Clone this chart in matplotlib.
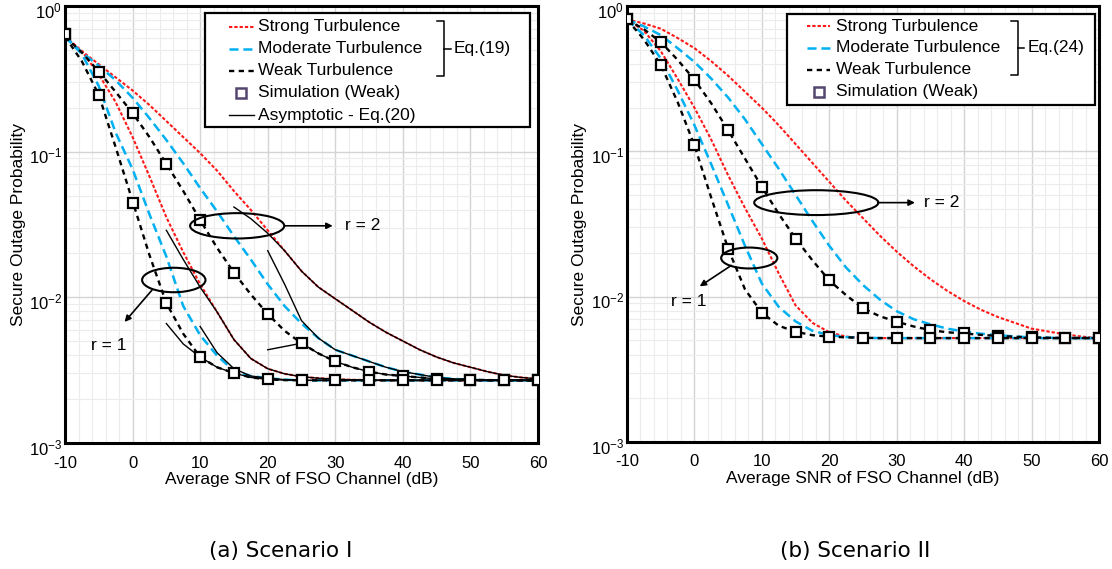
import numpy as np
import matplotlib
matplotlib.use("Agg")
import matplotlib.pyplot as plt
from matplotlib.patches import Ellipse, Rectangle
from matplotlib.lines import Line2D
from matplotlib.ticker import FixedLocator, MultipleLocator, LogLocator, NullFormatter, LogFormatterSciNotation
import matplotlib.transforms as mtransforms

plt.rcParams['font.family'] = ['Liberation Sans', 'DejaVu Sans']
plt.rcParams['mathtext.fontset'] = 'custom'
plt.rcParams['mathtext.rm'] = 'Liberation Sans'
plt.rcParams['mathtext.it'] = 'Liberation Sans:italic'
plt.rcParams['axes.unicode_minus'] = False
plt.rcParams['lines.scale_dashes'] = False

# ---------------- data (values are log10 of secure outage probability) ----------------
snr = [-10, -7.5, -5, -2.5, 0, 2.5, 5, 7.5, 10, 12.5, 15, 17.5, 20, 22.5, 25, 27.5, 30,
       32.5, 35, 37.5, 40, 42.5, 45, 47.5, 50, 52.5, 55, 57.5, 60]
sim_snr = [-10, -5, 0, 5, 10, 15, 20, 25, 30, 35, 40, 45, 50, 55, 60]
x_ticks = [-10, 0, 10, 20, 30, 40, 50, 60]

# Scenario I
a_strong_r1 = [-0.21, -0.31, -0.47, -0.66, -0.90, -1.17, -1.45, -1.69, -1.91, -2.10, -2.29, -2.42, -2.49,
               -2.525, -2.545, -2.555, -2.562, -2.566, -2.568, -2.57, -2.57, -2.57, -2.57, -2.57, -2.57,
               -2.57, -2.57, -2.57, -2.57]
a_moderate_r1 = [-0.21, -0.33, -0.55, -0.87, -1.12, -1.43, -1.72, -2.06, -2.26, -2.40, -2.505, -2.54, -2.555,
                 -2.565, -2.57, -2.57, -2.57, -2.57, -2.57, -2.57, -2.57, -2.57, -2.57, -2.57, -2.57,
                 -2.57, -2.57, -2.57, -2.57]
a_weak_r1 = [-0.21, -0.38, -0.61, -0.97, -1.34, -1.71, -2.04, -2.25, -2.41, -2.48, -2.52, -2.55, -2.563,
             -2.568, -2.57, -2.57, -2.57, -2.57, -2.57, -2.57, -2.57, -2.57, -2.57, -2.57, -2.57,
             -2.57, -2.57, -2.57, -2.57]
a_strong_r2 = [-0.21, -0.31, -0.40, -0.49, -0.58, -0.68, -0.79, -0.90, -1.01, -1.13, -1.27, -1.40, -1.54,
               -1.68, -1.82, -1.93, -2.01, -2.09, -2.17, -2.24, -2.30, -2.36, -2.41, -2.45, -2.48,
               -2.51, -2.535, -2.55, -2.56]
a_moderate_r2 = [-0.21, -0.32, -0.41, -0.51, -0.63, -0.77, -0.92, -1.08, -1.25, -1.41, -1.58, -1.74, -1.91,
                 -2.06, -2.18, -2.28, -2.36, -2.40, -2.44, -2.48, -2.51, -2.53, -2.55, -2.56, -2.565,
                 -2.57, -2.57, -2.57, -2.57]
a_weak_r2 = [-0.21, -0.32, -0.45, -0.59, -0.735, -0.90, -1.084, -1.27, -1.469, -1.66, -1.83, -1.98, -2.114,
             -2.23, -2.315, -2.385, -2.44, -2.48, -2.51, -2.53, -2.54, -2.55, -2.56, -2.563, -2.565,
             -2.568, -2.57, -2.57, -2.57]
a_sim_r1 = [-0.19, -0.611, -1.35, -2.04, -2.407, -2.52, -2.563, -2.57, -2.57, -2.57, -2.57, -2.57, -2.57, -2.57, -2.57]
a_sim_r2 = [-0.19, -0.453, -0.735, -1.084, -1.469, -1.83, -2.114, -2.315, -2.44, -2.51, -2.54, -2.56, -2.565, -2.57, -2.57]

# asymptotic curves (Eq.(20)), Scenario I
asy_strong_r1_x = [5, 7.5, 10, 12.5, 15, 17.5, 20, 22.5, 25, 27.5, 30, 32.5, 35, 37.5, 40, 42.5, 45, 47.5, 50, 52.5, 55, 57.5, 60]
asy_strong_r1 = [-1.54, -1.74, -1.93, -2.10, -2.29, -2.42, -2.49, -2.525, -2.545, -2.555, -2.562, -2.566, -2.568,
                 -2.57, -2.57, -2.57, -2.57, -2.57, -2.57, -2.57, -2.57, -2.57, -2.57]
asy_moderate_r1_x = [10, 12.5, 15, 17.5, 20, 22.5, 25, 27.5, 30, 32.5, 35, 37.5, 40, 42.5, 45, 47.5, 50, 52.5, 55, 57.5, 60]
asy_moderate_r1 = [-2.20, -2.38, -2.49, -2.54, -2.555, -2.565, -2.57, -2.57, -2.57, -2.57, -2.57, -2.57, -2.57,
                   -2.57, -2.57, -2.57, -2.57, -2.57, -2.57, -2.57, -2.57]
asy_weak_r1_x = [5, 7.5, 10, 12.5, 15, 17.5, 20, 22.5, 25, 27.5, 30, 32.5, 35, 37.5, 40, 42.5, 45, 47.5, 50, 52.5, 55, 57.5, 60]
asy_weak_r1 = [-2.18, -2.32, -2.41, -2.48, -2.52, -2.55, -2.563, -2.568, -2.57, -2.57, -2.57, -2.57, -2.57,
               -2.57, -2.57, -2.57, -2.57, -2.57, -2.57, -2.57, -2.57, -2.57, -2.57]
asy_strong_r2_x = [15, 17.5, 20, 22.5, 25, 27.5, 30, 32.5, 35, 37.5, 40, 42.5, 45, 47.5, 50, 52.5, 55, 57.5, 60]
asy_strong_r2 = [-1.38, -1.46, -1.56, -1.68, -1.82, -1.93, -2.01, -2.09, -2.17, -2.24, -2.30, -2.36, -2.41,
                 -2.45, -2.48, -2.51, -2.535, -2.55, -2.56]
asy_moderate_r2_x = [20, 22.5, 25, 27.5, 30, 32.5, 35, 37.5, 40, 42.5, 45, 47.5, 50, 52.5, 55, 57.5, 60]
asy_moderate_r2 = [-1.68, -1.91, -2.16, -2.28, -2.36, -2.40, -2.44, -2.48, -2.51, -2.53, -2.55, -2.56, -2.565,
                   -2.57, -2.57, -2.57, -2.57]
asy_weak_r2_x = [20, 25, 27.5, 30, 32.5, 35, 37.5, 40, 42.5, 45, 47.5, 50, 52.5, 55, 57.5, 60]
asy_weak_r2 = [-2.36, -2.315, -2.385, -2.44, -2.48, -2.51, -2.53, -2.54, -2.55, -2.56, -2.563, -2.565, -2.568,
               -2.57, -2.57, -2.57]

# Scenario II
b_strong_r1 = [-0.092, -0.17, -0.31, -0.50, -0.70, -0.92, -1.165, -1.39, -1.60, -1.84, -2.06, -2.18, -2.245,
               -2.275, -2.283, -2.285, -2.285, -2.285, -2.285, -2.285, -2.285, -2.285, -2.285, -2.285,
               -2.285, -2.285, -2.285, -2.285, -2.285]
b_moderate_r1 = [-0.092, -0.20, -0.36, -0.58, -0.82, -1.09, -1.37, -1.65, -1.91, -2.07, -2.17, -2.235, -2.264,
                 -2.278, -2.283, -2.285, -2.285, -2.285, -2.285, -2.285, -2.285, -2.285, -2.285, -2.285,
                 -2.285, -2.285, -2.285, -2.285, -2.285]
b_weak_r1 = [-0.092, -0.23, -0.404, -0.66, -0.959, -1.32, -1.67, -1.95, -2.11, -2.20, -2.241, -2.265, -2.275,
             -2.28, -2.283, -2.285, -2.285, -2.285, -2.285, -2.285, -2.285, -2.285, -2.285, -2.285,
             -2.285, -2.285, -2.285, -2.285, -2.285]
b_strong_r2 = [-0.092, -0.12, -0.156, -0.22, -0.29, -0.38, -0.48, -0.59, -0.70, -0.82, -0.95, -1.08, -1.21,
               -1.34, -1.46, -1.58, -1.69, -1.79, -1.88, -1.96, -2.03, -2.09, -2.14, -2.18, -2.22,
               -2.24, -2.26, -2.275, -2.285]
b_moderate_r2 = [-0.092, -0.14, -0.20, -0.29, -0.385, -0.50, -0.63, -0.78, -0.95, -1.12, -1.30, -1.48, -1.65,
                 -1.80, -1.92, -2.02, -2.10, -2.155, -2.19, -2.22, -2.24, -2.255, -2.265, -2.274, -2.28,
                 -2.283, -2.285, -2.285, -2.285]
b_weak_r2 = [-0.092, -0.16, -0.248, -0.37, -0.507, -0.67, -0.855, -1.05, -1.245, -1.43, -1.60, -1.75, -1.888,
             -1.99, -2.08, -2.135, -2.172, -2.205, -2.23, -2.245, -2.253, -2.263, -2.27, -2.276, -2.28,
             -2.283, -2.284, -2.285, -2.285]
b_sim_r1 = [-0.092, -0.404, -0.959, -1.67, -2.11, -2.241, -2.28, -2.283, -2.285, -2.285, -2.285, -2.285, -2.285, -2.285, -2.285]
b_sim_r2 = [-0.092, -0.248, -0.507, -0.855, -1.245, -1.60, -1.888, -2.08, -2.172, -2.23, -2.253, -2.27, -2.28, -2.283, -2.285]

legend_labels_a = ["Strong Turbulence", "Moderate Turbulence", "Weak Turbulence",
                   "Simulation (Weak)", "Asymptotic - Eq.(20)"]
legend_labels_b = ["Strong Turbulence", "Moderate Turbulence", "Weak Turbulence", "Simulation (Weak)"]

# ---------------- styling ----------------
RED = '#ff1a1a'
BLUE = '#00b0f0'
FS = 12.5
red_kw = dict(color=RED, lw=1.5, dashes=(2.4, 1.4))
blue_kw = dict(color=BLUE, lw=1.8, dashes=(6.5, 3.5))
black_kw = dict(color='black', lw=1.7, dashes=(3.8, 3.2))
asy_kw = dict(color='black', lw=1.0, linestyle='-')
mk_kw = dict(linestyle='none', marker='s', ms=6.5, mfc='white', mec='black', mew=1.6, zorder=6)


def P(v):
    return 10 ** np.asarray(v, dtype=float)


fig = plt.figure(figsize=(11.12, 5.69), dpi=100)
axL = fig.add_axes([65 / 1112, 1 - 443 / 569, 473 / 1112, 437 / 569])
axR = fig.add_axes([627 / 1112, 1 - 442 / 569, 472 / 1112, 436 / 569])


def style_axes(ax, ylabel_x):
    ax.set_yscale('log')
    ax.set_xlim(-10, 60)
    ax.set_ylim(1e-3, 1)
    ax.xaxis.set_major_locator(FixedLocator(x_ticks))
    ax.xaxis.set_minor_locator(MultipleLocator(2))
    ax.yaxis.set_major_locator(LogLocator(base=10, numticks=10))
    ax.yaxis.set_minor_locator(LogLocator(base=10, subs=np.arange(2, 10), numticks=20))
    ax.yaxis.set_minor_formatter(NullFormatter())
    ax.yaxis.set_major_formatter(LogFormatterSciNotation())
    ax.grid(True, which='major', color='#d4d4d4', lw=1.0)
    ax.grid(True, which='minor', color='#ececec', lw=0.8)
    ax.set_axisbelow(True)
    ax.tick_params(which='both', length=0)
    ax.tick_params(axis='x', labelsize=12, pad=9)
    ax.tick_params(axis='y', labelsize=12, pad=2)
    for s in ax.spines.values():
        s.set_linewidth(2.2)
    ax.set_xlabel("Average SNR of FSO Channel (dB)", fontsize=FS)
    ax.xaxis.set_label_coords(0.5, -0.066)
    ax.set_ylabel("Secure Outage Probability", fontsize=FS)
    ax.yaxis.set_label_coords(ylabel_x, 0.5)
    off = mtransforms.ScaledTranslation(0, -3.5 / 100, fig.dpi_scale_trans)
    for lab in ax.get_yticklabels():
        lab.set_transform(lab.get_transform() + off)


def draw_legend(ax, labels, box, line_x, text_x, rows, brk_x, eq_text, with_asym):
    ax.add_patch(Rectangle((box[0], box[1]), box[2] - box[0], box[3] - box[1], transform=ax.transAxes,
                           facecolor='white', edgecolor='black', lw=1.6, zorder=8))
    kws = [red_kw, blue_kw, black_kw]
    for i, kw in enumerate(kws):
        ax.add_line(Line2D(line_x, [rows[i], rows[i]], transform=ax.transAxes, zorder=9, **kw))
    ax.add_line(Line2D([np.mean(line_x)], [rows[3]], transform=ax.transAxes, linestyle='none', marker='s',
                       ms=6.5, mfc='white', mec='#54466e', mew=1.8, zorder=9))
    if with_asym:
        ax.add_line(Line2D(line_x, [rows[4], rows[4]], transform=ax.transAxes, zorder=9, **asy_kw))
    for lab, y in zip(labels, rows):
        ax.text(text_x, y, lab, transform=ax.transAxes, fontsize=FS, va='center', ha='left', zorder=10)
    # bracket
    top, bot = rows[0] + 0.012, rows[2] - 0.012
    mid = rows[1]
    bx0, bx1, bx2 = brk_x
    ax.add_line(Line2D([bx0, bx1, bx1, bx0], [top, top, bot, bot], transform=ax.transAxes,
                       color='black', lw=1.1, zorder=9))
    ax.add_line(Line2D([bx1, bx2], [mid, mid], transform=ax.transAxes, color='black', lw=1.1, zorder=9))
    ax.text(bx2 + 0.006, mid, eq_text, transform=ax.transAxes, fontsize=FS, va='center', ha='left', zorder=10)


def annotate(ax, ell, arrow_from, arrow_to, text, text_xy, ha):
    ax.add_patch(Ellipse(ell[:2], ell[2], ell[3], transform=ax.transAxes, fill=False,
                         edgecolor='black', lw=1.5, zorder=7))
    ax.annotate('', xy=arrow_to, xytext=arrow_from, xycoords='axes fraction', textcoords='axes fraction',
                arrowprops=dict(arrowstyle='-|>', color='black', lw=1.2, mutation_scale=9,
                                shrinkA=0, shrinkB=0), zorder=7)
    ax.text(text_xy[0], text_xy[1], text, transform=ax.transAxes, fontsize=FS, ha=ha, va='center')


# ---------------- Scenario I ----------------
ax = axL
style_axes(ax, -0.082)
ax.plot(snr, P(a_strong_r2), **red_kw)
ax.plot(snr, P(a_strong_r1), **red_kw)
ax.plot(snr, P(a_moderate_r2), **blue_kw)
ax.plot(snr, P(a_moderate_r1), **blue_kw)
ax.plot(snr, P(a_weak_r2), **black_kw)
ax.plot(snr, P(a_weak_r1), **black_kw)
ax.plot(asy_strong_r1_x, P(asy_strong_r1), **asy_kw)
ax.plot(asy_moderate_r1_x, P(asy_moderate_r1), **asy_kw)
ax.plot(asy_weak_r1_x, P(asy_weak_r1), **asy_kw)
ax.plot(asy_strong_r2_x, P(asy_strong_r2), **asy_kw)
ax.plot(asy_moderate_r2_x, P(asy_moderate_r2), **asy_kw)
ax.plot(asy_weak_r2_x, P(asy_weak_r2), **asy_kw)
ax.plot(sim_snr, P(a_sim_r2), **mk_kw)
ax.plot(sim_snr, P(a_sim_r1), **mk_kw)
draw_legend(ax, legend_labels_a, box=(0.296, 0.722, 0.984, 0.983), line_x=[0.346, 0.399], text_x=0.407,
            rows=[0.953, 0.902, 0.852, 0.801, 0.750], brk_x=(0.787, 0.802, 0.816), eq_text="Eq.(19)",
            with_asym=True)
annotate(ax, (0.364, 0.497, 0.199, 0.058), (0.464, 0.497), (0.566, 0.497), "r = 2", (0.593, 0.497), 'left')
annotate(ax, (0.230, 0.373, 0.134, 0.056), (0.184, 0.350), (0.126, 0.277), "r = 1", (0.093, 0.223), 'center')

# ---------------- Scenario II ----------------
ax = axR
style_axes(ax, -0.085)
ax.plot(snr, P(b_strong_r2), **red_kw)
ax.plot(snr, P(b_strong_r1), **red_kw)
ax.plot(snr, P(b_moderate_r2), **blue_kw)
ax.plot(snr, P(b_moderate_r1), **blue_kw)
ax.plot(snr, P(b_weak_r2), **black_kw)
ax.plot(snr, P(b_weak_r1), **black_kw)
ax.plot(sim_snr, P(b_sim_r2), **mk_kw)
ax.plot(sim_snr, P(b_sim_r1), **mk_kw)
draw_legend(ax, legend_labels_b, box=(0.339, 0.772, 0.992, 0.982), line_x=[0.382, 0.431], text_x=0.442,
            rows=[0.954, 0.904, 0.854, 0.803], brk_x=(0.813, 0.828, 0.842), eq_text="Eq.(24)",
            with_asym=False)
annotate(ax, (0.401, 0.549, 0.263, 0.057), (0.531, 0.549), (0.610, 0.549), "r = 2", (0.629, 0.549), 'left')
annotate(ax, (0.259, 0.422, 0.119, 0.048), (0.221, 0.405), (0.154, 0.357), "r = 1", (0.131, 0.323), 'center')

# captions
fig.text(281 / 1112, 1 - 551 / 569, "(a) Scenario I", fontsize=15.5, ha='center', va='center',
         family='DejaVu Sans')
fig.text(855 / 1112, 1 - 551 / 569, "(b) Scenario II", fontsize=15.5, ha='center', va='center',
         family='DejaVu Sans')

fig.savefig("out.png", dpi=100)
